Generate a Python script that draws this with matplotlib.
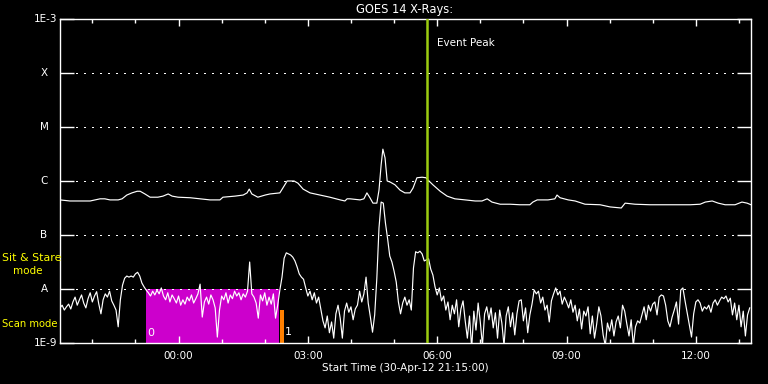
import numpy as np
import matplotlib
matplotlib.use("Agg")
import matplotlib.pyplot as plt

# ------------------------------------------------------------------
# Data (hours since 30-Apr-12 21:15:00, log10 flux W/m^2)
# ------------------------------------------------------------------

long_t = [0.00, 0.23, 0.46, 0.70, 0.93, 1.04, 1.16, 1.35, 1.44, 1.55, 1.67, 1.79,
          1.86, 1.97, 2.09, 2.27, 2.39, 2.51, 2.60, 2.74, 3.02, 3.25, 3.48, 3.71,
          3.78, 4.06, 4.25, 4.34, 4.39, 4.45, 4.59, 4.76, 4.87, 5.10, 5.17, 5.27,
          5.43, 5.52, 5.64, 5.80, 6.03, 6.26, 6.50, 6.61, 6.66, 6.73, 6.96, 7.05,
          7.12, 7.19, 7.26, 7.35, 7.40, 7.45, 7.49, 7.54, 7.59, 7.66, 7.77, 7.89,
          8.00, 8.12, 8.19, 8.28, 8.40, 8.49, 8.56, 8.65, 8.82, 8.98, 9.16, 9.40,
          9.63, 9.79, 9.91, 10.02, 10.21, 10.44, 10.67, 10.90, 10.97, 11.07, 11.32,
          11.48, 11.53, 11.60, 11.79, 11.95, 12.18, 12.53, 12.76, 13.02, 13.11,
          13.34, 13.69, 14.15, 14.62, 14.85, 14.97, 15.13, 15.27, 15.43, 15.66,
          15.82, 15.94, 16.03]
long_log = [-6.35, -6.37, -6.37, -6.37, -6.33, -6.33, -6.35, -6.35, -6.33, -6.26,
            -6.22, -6.19, -6.19, -6.24, -6.30, -6.30, -6.28, -6.24, -6.28, -6.30,
            -6.31, -6.33, -6.35, -6.35, -6.30, -6.28, -6.26, -6.22, -6.15, -6.24,
            -6.30, -6.26, -6.24, -6.22, -6.13, -6.00, -6.00, -6.04, -6.15, -6.22,
            -6.26, -6.30, -6.35, -6.37, -6.33, -6.33, -6.35, -6.33, -6.22, -6.31,
            -6.41, -6.41, -6.17, -5.70, -5.41, -5.57, -6.00, -6.02, -6.07, -6.17,
            -6.22, -6.22, -6.13, -5.94, -5.93, -5.94, -6.00, -6.07, -6.19, -6.28,
            -6.33, -6.35, -6.37, -6.37, -6.33, -6.39, -6.43, -6.43, -6.44, -6.44,
            -6.39, -6.35, -6.35, -6.33, -6.26, -6.31, -6.35, -6.37, -6.43, -6.44,
            -6.48, -6.50, -6.41, -6.43, -6.44, -6.44, -6.44, -6.43, -6.39, -6.37,
            -6.41, -6.44, -6.44, -6.39, -6.41, -6.44]

short_step = 0.05   # hours between samples
short_log = [
    -8.35, -8.30, -8.39, -8.33, -8.28, -8.37, -8.24, -8.15, -8.30, -8.20,
    -8.11, -8.26, -8.35, -8.18, -8.07, -8.24, -8.13, -8.05, -8.28, -8.46,
    -8.20, -8.09, -8.15, -8.04, -8.22, -8.30, -8.39, -8.70, -8.20, -7.93,
    -7.80, -7.76, -7.78, -7.76, -7.78, -7.72, -7.69, -7.76, -7.89, -7.96,
    -8.02, -8.07, -8.13, -8.04, -8.11, -8.02, -8.09, -7.98, -8.13, -8.20,
    -8.07, -8.24, -8.11, -8.18, -8.26, -8.13, -8.30, -8.20, -8.28, -8.15,
    -8.22, -8.11, -8.26, -8.18, -8.09, -7.91, -8.52, -8.24, -8.15, -8.28,
    -8.11, -8.20, -8.35, -8.89, -8.39, -8.13, -8.20, -8.07, -8.26, -8.11,
    -8.18, -8.04, -8.13, -8.07, -8.20, -8.09, -8.15, -8.04, -7.50, -8.09,
    -8.15, -8.26, -8.54, -8.11, -8.22, -8.07, -8.30, -8.15, -8.28, -8.09,
    -8.54, -8.30, -8.02, -7.78, -7.43, -7.33, -7.35, -7.37, -7.41, -7.48,
    -7.59, -7.72, -7.78, -7.82, -7.98, -8.13, -8.04, -8.20, -8.07, -8.26,
    -8.15, -8.37, -8.59, -8.72, -8.50, -8.81, -8.61, -8.91, -8.46, -8.30,
    -8.54, -8.91, -8.41, -8.26, -8.43, -8.33, -8.57, -8.37, -8.30, -8.04,
    -8.24, -8.09, -7.78, -8.26, -8.52, -8.80, -8.48, -7.80, -6.87, -6.39,
    -6.41, -6.78, -7.07, -7.39, -7.50, -7.67, -7.87, -8.24, -8.46, -8.26,
    -8.15, -8.30, -8.20, -8.39, -7.61, -7.31, -7.33, -7.30, -7.35, -7.48,
    -7.46, -7.44, -7.63, -7.74, -7.96, -8.11, -7.98, -8.22, -8.13, -8.39,
    -8.24, -8.57, -8.30, -8.46, -8.20, -8.70, -8.37, -8.22, -8.59, -8.91,
    -8.50, -9.10, -8.41, -8.76, -8.26, -8.61, -9.05, -8.46, -8.33, -8.57,
    -8.35, -8.72, -8.44, -8.91, -8.39, -8.63, -9.05, -8.50, -8.33, -8.70,
    -8.44, -8.85, -8.46, -8.22, -8.20, -8.59, -8.35, -8.81, -8.48, -8.28,
    -8.02, -8.09, -8.04, -8.26, -8.15, -8.39, -8.30, -8.61, -8.22, -8.09,
    -7.98, -8.11, -8.04, -8.28, -8.15, -8.24, -8.35, -8.20, -8.43, -8.30,
    -8.59, -8.37, -8.74, -8.41, -8.50, -8.33, -8.83, -8.50, -8.91, -8.65,
    -8.33, -8.50, -8.85, -9.05, -8.63, -8.78, -8.57, -8.87, -8.61, -8.50,
    -8.72, -8.30, -8.41, -8.65, -8.87, -8.57, -9.05, -8.70, -8.59, -8.63,
    -8.48, -8.33, -8.57, -8.30, -8.41, -8.28, -8.24, -8.48, -8.15, -8.11,
    -8.13, -8.30, -8.59, -8.70, -8.52, -8.39, -8.24, -8.65, -8.02, -7.98,
    -8.22, -8.44, -8.65, -8.89, -8.46, -8.24, -8.20, -8.26, -8.41, -8.33,
    -8.37, -8.30, -8.43, -8.26, -8.20, -8.30, -8.22, -8.15, -8.18, -8.13,
    -8.24, -8.17, -8.48, -8.26, -8.57, -8.30, -8.70, -8.41, -8.87, -8.48,
    -8.35]

t_end      = 16.03
event_peak = 8.52                       # 05:46
obs_mode0  = (2.00, 5.08, -8.0)         # start, end, top (log)  -> magenta
obs_mode1  = (5.10, 5.20, -8.39)        # orange

hour_ticks  = [0.75 + k for k in range(16)]
major_ticks = [2.75, 5.75, 8.75, 11.75, 14.75]
major_lbls  = ["00:00", "03:00", "06:00", "09:00", "12:00"]
decades     = [1e-3, 1e-4, 1e-5, 1e-6, 1e-7, 1e-8, 1e-9]
decade_lbls = ["1E-3", "X", "M", "C", "B", "A", "1E-9"]

# ------------------------------------------------------------------
W, H = 768, 384
fig = plt.figure(figsize=(W / 100, H / 100), dpi=100)
fig.patch.set_facecolor('black')
ax = fig.add_axes([60 / W, 41 / H, 691 / W, 324 / H])
ax.set_facecolor('black')

fs = 7.5
fam = 'DejaVu Sans'

def px(x, y):
    return x / W, 1 - y / H

ax.set_yscale('log')
ax.set_ylim(1e-9, 1e-3)
ax.set_xlim(0, t_end)

# observation bars
ax.fill_between([obs_mode0[0], obs_mode0[1]], 1e-9, 10 ** obs_mode0[2],
                color='#cc00cc', lw=0, zorder=1)
ax.fill_between([obs_mode1[0], obs_mode1[1]], 1e-9, 10 ** obs_mode1[2],
                color='#ff8000', lw=0, zorder=1)
ax.text(obs_mode0[0] + 0.03, 10 ** -8.82, "0", color='white', fontsize=fs + 0.5,
        family=fam, va='center', ha='left', zorder=5)
ax.text(obs_mode1[1] + 0.02, 10 ** -8.80, "1", color='white', fontsize=fs + 0.5,
        family=fam, va='center', ha='left', zorder=5)

# dotted grid
for d in decades[1:-1]:
    ax.axhline(d, color='white', lw=0.75, linestyle=(0, (1, 6)), zorder=2,
               antialiased=False)

# curves
t_short = np.arange(len(short_log)) * short_step
ax.plot(long_t, 10 ** np.array(long_log), color='white', lw=0.85, zorder=3)
ax.plot(t_short, 10 ** np.array(short_log), color='white', lw=0.85, zorder=3)

# event peak
ax.axvline(event_peak, color='#9ccc10', lw=1.8, zorder=4)
ax.text(event_peak + 0.22, 10 ** -3.45, "Event Peak", color='white',
        fontsize=fs, family=fam, va='center', ha='left')

# ticks
ax.set_yticks(decades)
ax.set_yticklabels([])
ax.minorticks_off()
ax.tick_params(axis='y', which='major', direction='in', length=10.3,
               width=1, color='white', left=True, right=True)
ax.set_xticks(major_ticks)
ax.set_xticklabels(major_lbls, color='white', fontsize=fs, family=fam)
ax.set_xticks(hour_ticks, minor=True)
ax.tick_params(axis='x', which='major', direction='in', length=5, width=1,
               color='white', top=True, bottom=True, pad=6)
ax.tick_params(axis='x', which='minor', direction='in', length=2.8, width=1,
               color='white', top=True, bottom=True)
for s in ax.spines.values():
    s.set_color('white')
    s.set_linewidth(1)

# y labels
for d, lbl in zip(decades, decade_lbls):
    y = 19 + (np.log10(1e-3) - np.log10(d)) * 54
    if lbl.startswith("1E"):
        fig.text(*px(57, y), lbl, color='white', fontsize=fs, family=fam,
                 ha='right', va='center')
    else:
        fig.text(*px(44, y), lbl, color='white', fontsize=fs, family=fam,
                 ha='center', va='center')

fig.text(*px(2, 258), "Sit & Stare", color='yellow', fontsize=fs + 0.4,
         family=fam, ha='left', va='center')
fig.text(*px(13, 271), "mode", color='yellow', fontsize=fs, family=fam,
         ha='left', va='center')
fig.text(*px(2, 324), "Scan mode", color='yellow', fontsize=fs - 0.3,
         family=fam, ha='left', va='center')

fig.text(*px(405, 10), "GOES 14 X-Rays:", color='white', fontsize=fs + 0.8,
         family=fam, ha='center', va='center')
fig.text(*px(405, 368), "Start Time (30-Apr-12 21:15:00)", color='white',
         fontsize=fs, family=fam, ha='center', va='center')

fig.savefig("out.png", dpi=100, facecolor=fig.get_facecolor())
